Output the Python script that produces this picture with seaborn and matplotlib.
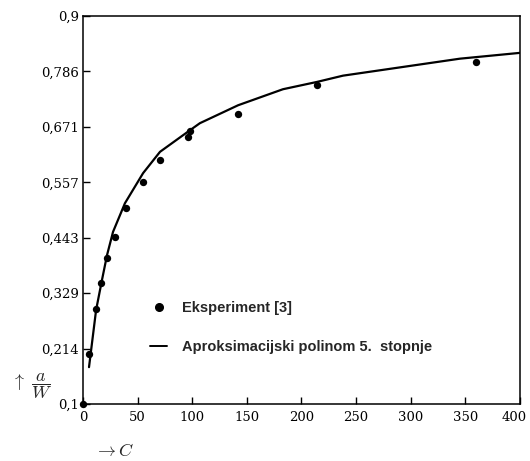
import numpy as np
import pandas as pd
import matplotlib
matplotlib.use('Agg')
import matplotlib.pyplot as plt
import matplotlib.transforms as mtransforms
import seaborn as sns
from matplotlib.lines import Line2D

# ── Data ──
exp_c = [0, 5.5, 12, 16.5, 22, 29, 39, 55, 70.5, 96, 98, 142, 214, 360]
exp_aw = [0.100, 0.203, 0.296, 0.349, 0.401, 0.444, 0.504, 0.558, 0.603,
          0.650, 0.663, 0.698, 0.758, 0.805]

poly_c = [5.5, 12, 17.4, 22, 27.5, 38.4, 55, 70.5, 97, 107, 142, 183, 214,
          238, 345, 400]
poly_aw = [0.176, 0.294, 0.356, 0.407, 0.455, 0.514, 0.576, 0.620, 0.663,
           0.679, 0.716, 0.749, 0.764, 0.777, 0.812, 0.824]

x_ticks = [0, 50, 100, 150, 200, 250, 300, 350, 400]
y_ticks = [0.1, 0.214, 0.329, 0.443, 0.557, 0.671, 0.786, 0.9]
y_tick_labels = ['0,1', '0,214', '0,329', '0,443', '0,557', '0,671', '0,786', '0,9']

df_exp = pd.DataFrame({'C': exp_c, 'aW': exp_aw})
df_poly = pd.DataFrame({'C': poly_c, 'aW': poly_aw})

sns.set_theme(style='white')
plt.rcParams['font.family'] = ['DejaVu Serif']
plt.rcParams['mathtext.fontset'] = 'cm'

fig = plt.figure(figsize=(5.3, 4.61), dpi=100)
ax = fig.add_axes([0.1566, 0.1236, 0.8245, 0.8417])

sns.lineplot(data=df_poly, x='C', y='aW', ax=ax, color='black', lw=1.6,
             sort=False, estimator=None)
sns.scatterplot(data=df_exp, x='C', y='aW', ax=ax, color='black', s=28,
                edgecolor='black', linewidth=0, clip_on=False, zorder=5)

ax.set_xlim(0, 400)
ax.set_ylim(0.1, 0.9)
ax.set_xticks(x_ticks)
ax.set_xticklabels([str(t) for t in x_ticks])
ax.set_yticks(y_ticks)
ax.set_yticklabels(y_tick_labels)
ax.set_xlabel('')
ax.set_ylabel('')

for sp in ax.spines.values():
    sp.set_color('black')
    sp.set_linewidth(1.1)
ax.tick_params(axis='both', direction='in', length=5, width=1.0,
               colors='black', labelsize=9.5, left=True, bottom=True)
ax.tick_params(axis='y', pad=3)
ax.tick_params(axis='x', pad=5)

# nudge the last x label so it stays inside the picture
last = ax.get_xticklabels()[-1]
last.set_transform(last.get_transform() +
                   mtransforms.ScaledTranslation(-4 / 72, 0, fig.dpi_scale_trans))

# ── Legend ──
handles = [
    Line2D([], [], marker='o', color='black', linestyle='none', markersize=5.5),
    Line2D([], [], color='black', lw=1.4),
]
labels = ['Eksperiment [3]', 'Aproksimacijski polinom 5.  stopnje']
leg = ax.legend(handles, labels, loc='center left', bbox_to_anchor=(0.153, 0.197),
                frameon=False, borderaxespad=0, borderpad=0, handlelength=1.2,
                handletextpad=1.0, labelspacing=1.75,
                prop={'family': 'Liberation Sans', 'weight': 'bold', 'size': 10.5})

# ── Axis labels ──
fig.text(0.02, 0.163, r'$\uparrow\ \dfrac{a}{W}$', fontsize=13, va='center', ha='left')
fig.text(0.178, 0.003, r'$\rightarrow C$', fontsize=13, va='bottom', ha='left')

fig.savefig('out.png', dpi=100)
